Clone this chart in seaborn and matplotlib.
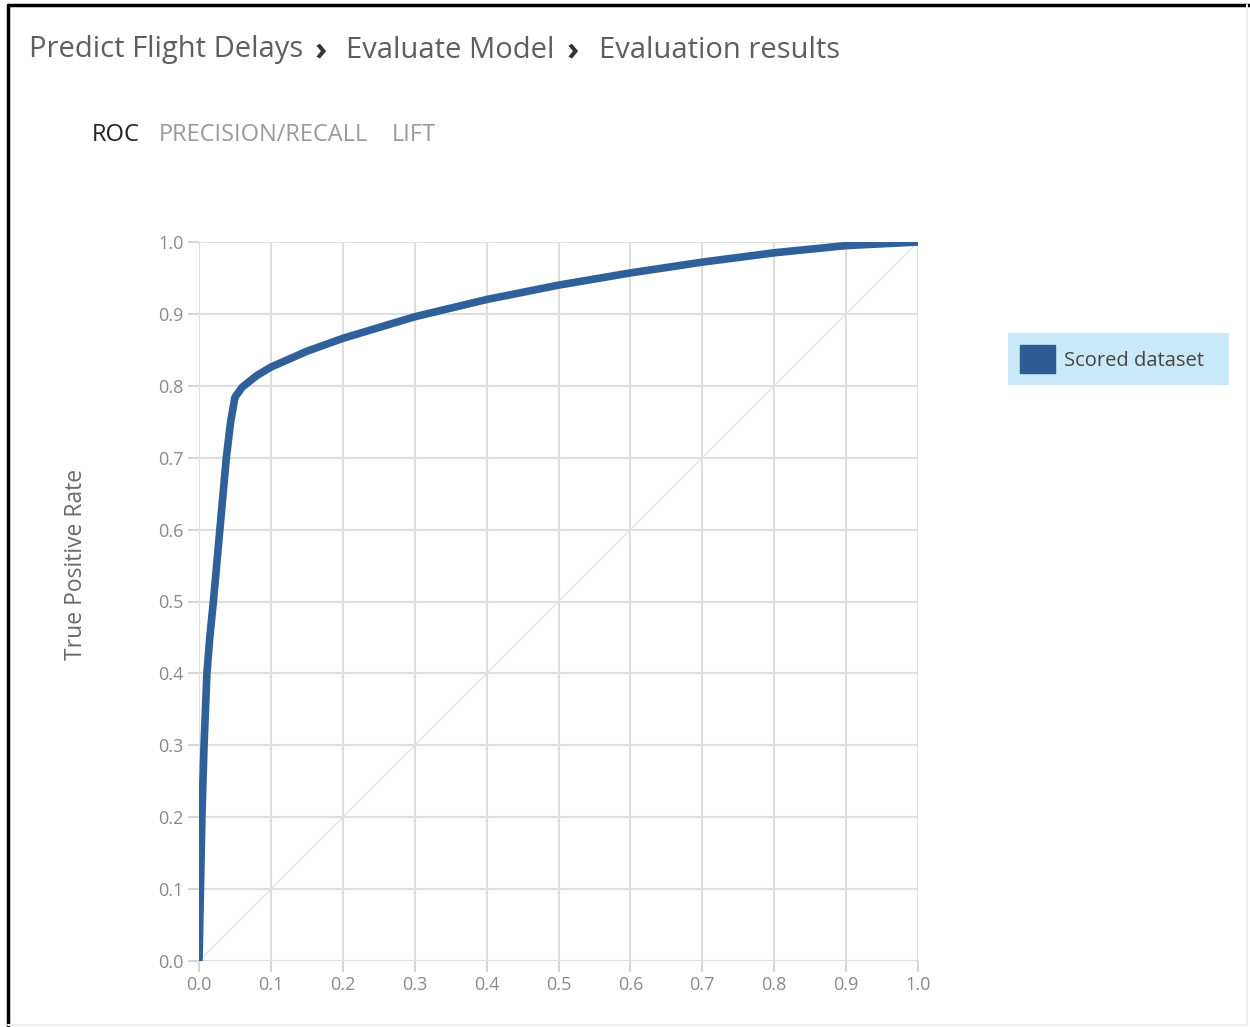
# ROC curve - Evaluate Model results
import pandas as pd
import seaborn as sns
import matplotlib.pyplot as plt
from matplotlib.patches import Patch, Rectangle
from matplotlib.lines import Line2D

# values
fpr = [0.0, 0.002, 0.004, 0.007, 0.011, 0.015, 0.020, 0.029, 0.038, 0.044,
       0.050, 0.060, 0.080, 0.100, 0.150, 0.200, 0.300, 0.400, 0.500, 0.600,
       0.700, 0.800, 0.900, 1.000]
tpr = [0.0, 0.10, 0.20, 0.30, 0.40, 0.45, 0.50, 0.60, 0.70, 0.750,
       0.784, 0.798, 0.814, 0.826, 0.848, 0.866, 0.896, 0.920, 0.940, 0.957,
       0.972, 0.985, 0.995, 1.000]
ticks = [0.0, 0.1, 0.2, 0.3, 0.4, 0.5, 0.6, 0.7, 0.8, 0.9, 1.0]
tabs = ["ROC", "PRECISION/RECALL", "LIFT"]
series_name = "Scored dataset"

df = pd.DataFrame({"fpr": fpr, "tpr": tpr})

sns.set_style("white")
plt.rcParams["font.family"] = ["Open Sans", "DejaVu Sans"]

W, H = 1250, 1027
fig = plt.figure(figsize=(12.5, 10.27), dpi=100)
ax = fig.add_axes([199 / W, 1 - 961 / H, (918 - 199) / W, (961 - 242) / H])

grid_c = "#dedede"
line_c = "#30609a"

# diagonal reference line
ax.plot([0, 1], [0, 1], color="#e6e6e6", lw=1.2, zorder=1)
sns.lineplot(data=df, x="fpr", y="tpr", ax=ax, color=line_c, lw=5.5,
             sort=False, zorder=3, solid_capstyle="butt")

ax.set_xlim(0, 1)
ax.set_ylim(0, 1)
ax.set_xticks(ticks)
ax.set_yticks(ticks)
ax.set_xticklabels([f"{t:.1f}" for t in ticks])
ax.set_yticklabels([f"{t:.1f}" for t in ticks])
ax.grid(True, color=grid_c, lw=1.5, zorder=0)
ax.set_axisbelow(True)
for s in ax.spines.values():
    s.set_visible(False)
ax.tick_params(axis="both", bottom=True, left=True, length=8, width=1.5,
               color="#d6d6d6", labelcolor="#8a8a8a", labelsize=13, pad=3)
ax.set_xlabel("")
ax.set_ylabel("True Positive Rate", fontsize=16.5, color="#6a6a6a")
ax.yaxis.set_label_coords(-0.155, 0.551)

# header texts
fig.text(29 / W, 1 - 50 / H, "Predict Flight Delays", fontsize=21,
         color="#5e5e5e", va="center")
fig.text(315 / W, 1 - 51 / H, "›", fontsize=24, color="#333333",
         va="center", fontweight="bold")
fig.text(346 / W, 1 - 50 / H, "Evaluate Model", fontsize=21,
         color="#5e5e5e", va="center")
fig.text(567 / W, 1 - 51 / H, "›", fontsize=24, color="#333333",
         va="center", fontweight="bold")
fig.text(599 / W, 1 - 50 / H, "Evaluation results", fontsize=21,
         color="#5e5e5e", va="center")

tab_x = [92, 159, 392]
tab_c = ["#222222", "#9a9a9a", "#9a9a9a"]
for label, x, c in zip(tabs, tab_x, tab_c):
    fig.text(x / W, 1 - 135 / H, label, fontsize=17, color=c, va="center")

# legend box drawn behind a frameless legend
fig.patches.append(Rectangle((1008 / W, 1 - 385 / H), 221 / W, 52 / H,
                             transform=fig.transFigure, facecolor="#c9e9f8",
                             edgecolor="none", zorder=0))
handle = Patch(facecolor="#2f5b93", edgecolor="#2f5b93")
leg = fig.legend(handles=[handle], labels=[series_name], loc="center left",
                 bbox_to_anchor=(1008 / W, 1 - 359 / H), fontsize=14.5,
                 frameon=False, handlelength=1.75, handleheight=1.75,
                 borderpad=0.6, handletextpad=0.45, borderaxespad=0)
for t in leg.get_texts():
    t.set_color("#444444")

# screenshot frame
fig.add_artist(Line2D([8 / W, 1], [1 - 5 / H, 1 - 5 / H], color="black", lw=2.5))
fig.add_artist(Line2D([8 / W, 8 / W], [0, 1 - 5 / H], color="black", lw=2.5))
fig.add_artist(Line2D([8 / W, 1247 / W], [2 / H, 2 / H], color="#eeeeee", lw=1.5))
fig.add_artist(Line2D([1247 / W, 1247 / W], [2 / H, 1 - 5 / H], color="#eeeeee", lw=1.5))

fig.savefig("out.png", dpi=100)
